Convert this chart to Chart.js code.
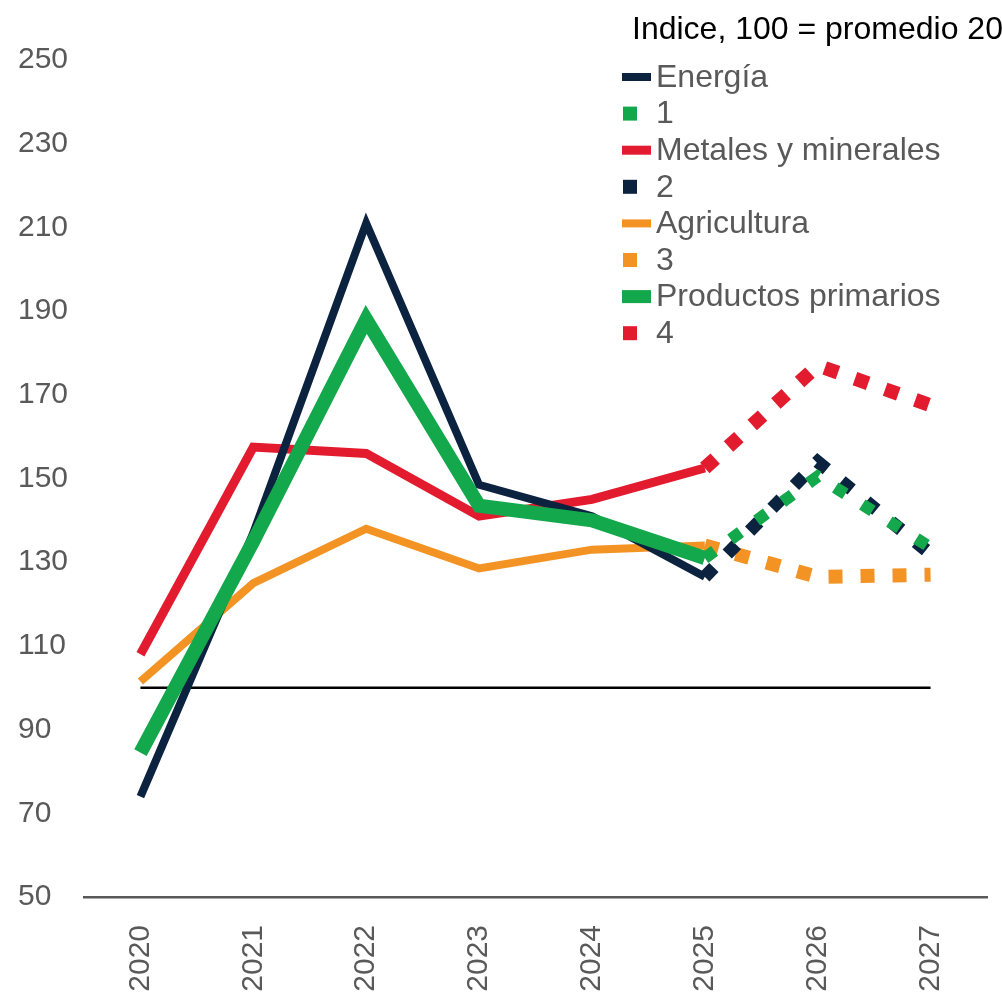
<!DOCTYPE html>
<html>
<head>
<meta charset="utf-8">
<script src="https://cdn.jsdelivr.net/npm/chart.js@4/dist/chart.umd.min.js"></script>
<style>
  body { margin: 0; background: #fff; }
  #wrap { width: 1002px; height: 1000px; }
</style>
</head>
<body>
<div id="wrap"><canvas id="commodity-chart" width="1002" height="1000"></canvas></div>
<script>
// --- data ---
const years = ['2020', '2021', '2022', '2023', '2024', '2025', '2026', '2027'];

const energia       = [74, 137, 211, 148.5, 141, 126.5, null, null];
const energiaProy   = [null, null, null, null, null, 126.5, 154, 132];
const metales       = [108, 157.5, 156, 141, 145, 152.5, null, null];
const metalesProy   = [null, null, null, null, null, 152.5, 177, 167.5];
const agricultura   = [101.5, 125, 138, 128.5, 133, 134, null, null];
const agriculturaProy = [null, null, null, null, null, 134, 126.5, 127];
const primarios     = [84.5, 135, 188, 143.5, 140, 131, null, null];
const primariosProy = [null, null, null, null, null, 131, 150.5, 133.5];
const base100       = [100, 100, 100, 100, 100, 100, 100, 100];

const yTicks = [50, 70, 90, 110, 130, 150, 170, 190, 210, 230, 250];
const legendTitle = 'Indice, 100 = promedio 20'; // cut by the right edge in the source

const NAVY = '#0c2340';
const GREEN = '#13a84b';
const RED = '#e31b2f';
const ORANGE = '#f39324';
const GREY = '#595959';
const FONT = '"Liberation Sans", Arial, sans-serif';

function solid(label, data, color, width, order) {
    return { label, data, borderColor: color, backgroundColor: color, borderWidth: width,
             pointRadius: 0, tension: 0, fill: false, order, dotted: false };
}
function dotted(label, data, color, width, order) {
    return { label, data, borderColor: color, backgroundColor: color, borderWidth: width,
             borderDash: [width, 32 - width], borderCapStyle: 'butt',
             pointRadius: 0, tension: 0, fill: false, order, dotted: true };
}

// legend order = dataset order; "order" only controls what is painted on top
const datasets = [
    solid('Energía', energia, NAVY, 8, 2),
    dotted('1', primariosProy, GREEN, 12, 1),
    solid('Metales y minerales', metales, RED, 9, 3),
    dotted('2', energiaProy, NAVY, 13, 2),
    solid('Agricultura', agricultura, ORANGE, 8, 4),
    dotted('3', agriculturaProy, ORANGE, 14, 4),
    solid('Productos primarios', primarios, GREEN, 14, 1),
    dotted('4', metalesProy, RED, 14, 3),
    { label: 'base', data: base100, borderColor: '#000', borderWidth: 2.5, pointRadius: 0, order: 9, legend: false }
];

// simple legend drawn on the canvas, top right, like the source
const cornerLegend = {
    id: 'cornerLegend',
    afterDraw(chart) {
        const ctx = chart.ctx;
        ctx.save();
        ctx.textBaseline = 'middle';
        ctx.textAlign = 'left';
        ctx.font = '32px ' + FONT;
        ctx.fillStyle = '#000';
        ctx.fillText(legendTitle, 632, 30);

        let y = 77;
        chart.data.datasets.forEach(ds => {
            if (ds.legend === false) return;
            ctx.fillStyle = ds.borderColor;
            if (ds.dotted) {
                ctx.fillRect(623, y - 7, 14, 14);
            } else {
                const h = Math.min(ds.borderWidth, 13);
                ctx.fillRect(622, y - h / 2, 29, h);
            }
            ctx.fillStyle = GREY;
            ctx.fillText(ds.label, 656, y + 1);
            y += 36.6;
        });
        ctx.restore();
    }
};

new Chart(document.getElementById('commodity-chart'), {
    type: 'line',
    data: { labels: years, datasets: datasets },
    options: {
        responsive: false,
        animation: false,
        layout: { padding: { left: 18, right: 15, top: 60, bottom: 0 } },
        plugins: { legend: { display: false }, tooltip: { enabled: false } },
        scales: {
            x: {
                offset: true,
                grid: { display: false, drawTicks: false },
                border: { display: true, color: GREY, width: 2.5 },
                ticks: { color: GREY, font: { family: FONT, size: 30 }, minRotation: 90, maxRotation: 90, padding: 28 },
                afterFit(scale) { scale.height = 103; }
            },
            y: {
                min: 50,
                max: 250,
                afterBuildTicks(scale) { scale.ticks = yTicks.map(v => ({ value: v })); },
                grid: { display: false, drawTicks: false },
                border: { display: false },
                ticks: { color: GREY, font: { family: FONT, size: 30 }, crossAlign: 'far' },
                afterFit(scale) { scale.width = 66; }
            }
        }
    },
    plugins: [cornerLegend]
});
</script>
</body>
</html>
